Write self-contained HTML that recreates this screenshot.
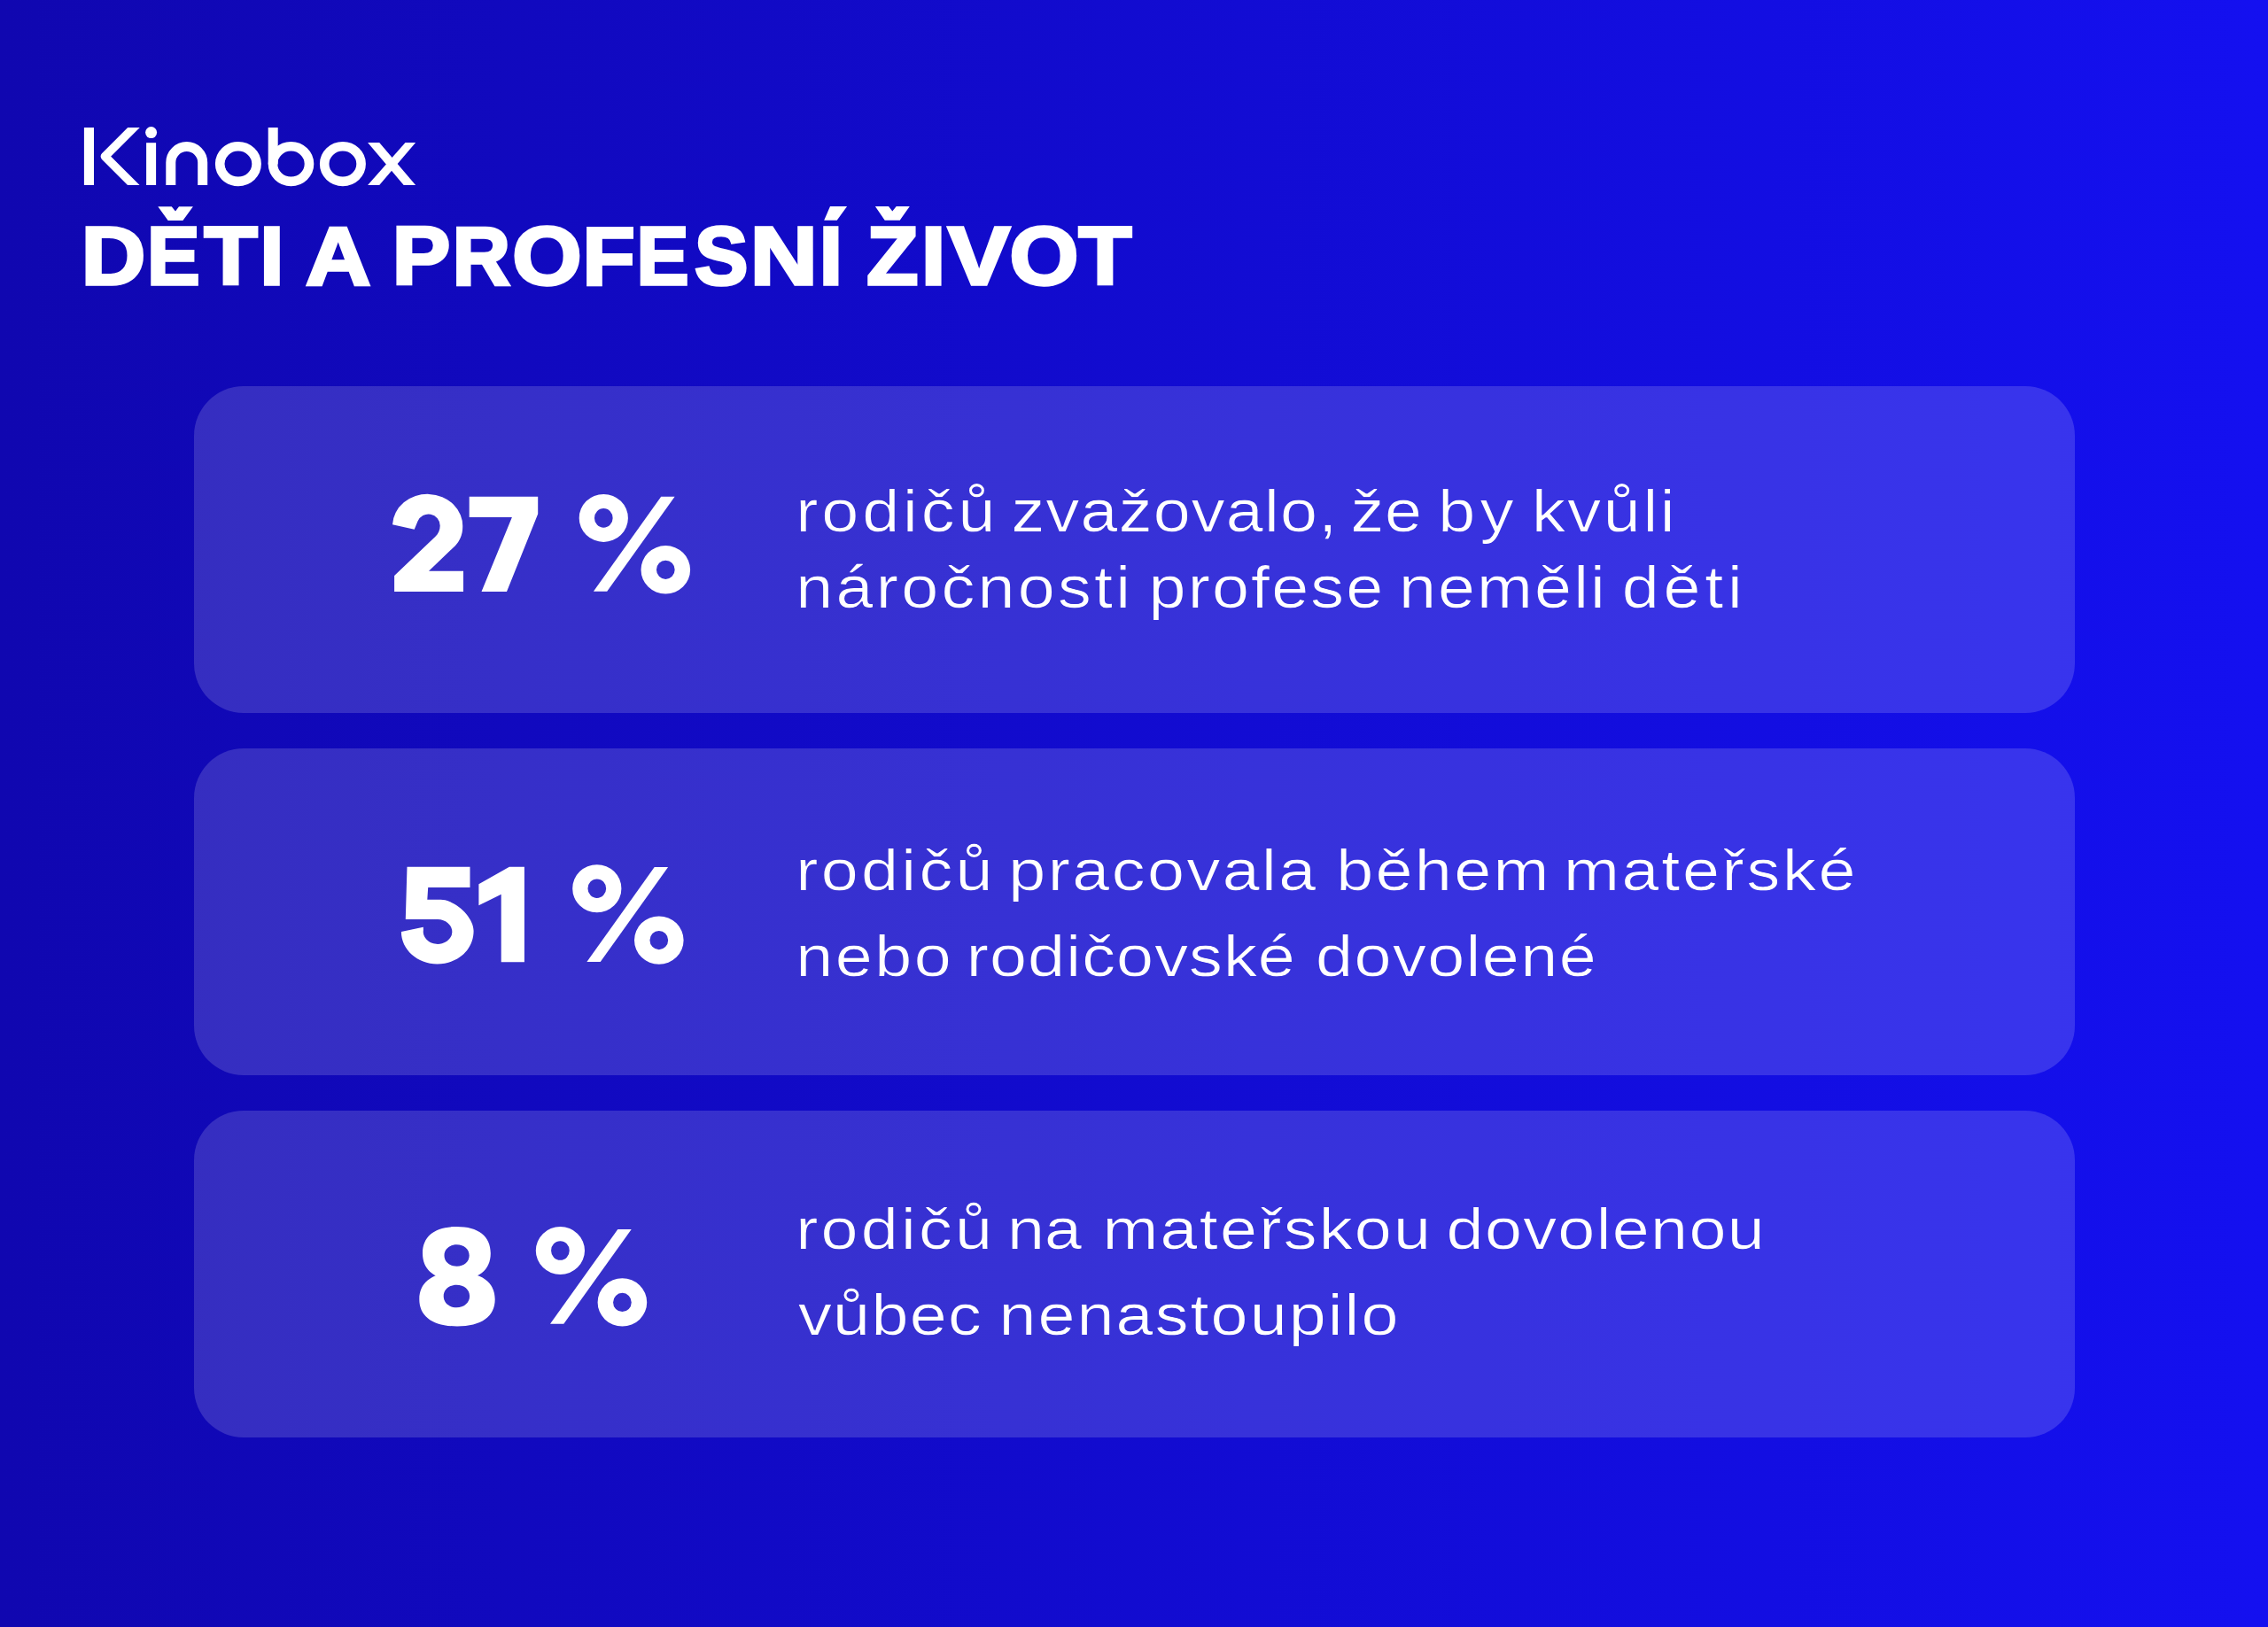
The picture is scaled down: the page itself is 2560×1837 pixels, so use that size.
<!DOCTYPE html>
<html lang="cs"><head><meta charset="utf-8"><title>Kinobox – Děti a profesní život</title>
<style>html,body{margin:0;padding:0;background:#1209c8}body{width:2560px;height:1837px;overflow:hidden;font-family:"Liberation Sans",sans-serif}svg text{font-family:"Liberation Sans",sans-serif}</style></head>
<body>
<svg width="2560" height="1837" viewBox="0 0 2560 1837" style="display:block">
<defs><linearGradient id="bg" x1="0" y1="0" x2="1" y2="0"><stop offset="0" stop-color="#1007b0"/><stop offset="1" stop-color="#1410f0"/></linearGradient></defs>
<rect width="2560" height="1837" fill="url(#bg)"/>
<rect x="219" y="436" width="2123" height="369" rx="56" fill="#fff" fill-opacity="0.155"/>
<rect x="219" y="845" width="2123" height="369" rx="56" fill="#fff" fill-opacity="0.155"/>
<rect x="219" y="1254" width="2123" height="369" rx="56" fill="#fff" fill-opacity="0.155"/>
<g id="logo" role="img" aria-label="Kinobox" fill="#fff"><title>Kinobox</title>
<rect x="94.9" y="144" width="11.1" height="65"/>
<clipPath id="kclip"><rect x="100" y="144" width="70" height="65"/></clipPath>
<path clip-path="url(#kclip)" d="M161,134 L118.4,176.6 L161,219.2" fill="none" stroke="#fff" stroke-width="9.6" stroke-linejoin="round"/>
<circle cx="170.6" cy="149.6" r="6.5"/>
<rect x="165.1" y="161.2" width="11" height="47.8"/>
<path d="M192.8,209 V183.5 A17.95,17.95 0 0 1 228.7,183.5 V209" fill="none" stroke="#fff" stroke-width="11"/>
<ellipse cx="268.9" cy="185.1" rx="20.7" ry="19.8" fill="none" stroke="#fff" stroke-width="10.6"/>
<rect x="302.7" y="144" width="11" height="41.5"/>
<ellipse cx="328.5" cy="185.1" rx="20.5" ry="19.8" fill="none" stroke="#fff" stroke-width="10.6"/>
<ellipse cx="386.9" cy="185.1" rx="20.7" ry="19.8" fill="none" stroke="#fff" stroke-width="10.6"/>
<path d="M415.1,161.1 L428.2,161.1 L469.1,209 L455.7,209 Z"/>
<path d="M457.5,161.1 L469.1,161.1 L428.2,209 L415.1,209 Z"/>
</g>

<defs><clipPath id="capclip"><rect x="0" y="254" width="2560" height="100"/></clipPath></defs>
<g fill="#fff" stroke="#fff" stroke-width="3.6" stroke-linejoin="miter" font-weight="700" font-size="96">
<text transform="translate(91.87,321.32) scale(1.0457,0.9716)">D</text><g clip-path="url(#capclip)"><text transform="translate(165.99,321.32) scale(0.9312,0.9716)">Ě</text></g><text transform="translate(230.42,321.32) scale(1.0249,0.9716)">T</text><text transform="translate(293.28,321.32) scale(1.0216,0.9716)">I</text>
<text transform="translate(345.05,321.32) scale(1.0591,0.9716)">A</text>
<text transform="translate(442.77,321.32) scale(1.0228,0.9716)">P</text><text transform="translate(510.66,321.32) scale(0.9395,0.9716)">R</text><text transform="translate(578.22,321.32) scale(1.0496,0.9716)">O</text><text transform="translate(657.53,321.32) scale(1.0099,0.9716)">F</text><text transform="translate(718.53,321.32) scale(0.9225,0.9716)">E</text><text transform="translate(784.00,321.32) scale(0.9431,0.9716)">S</text><text transform="translate(846.63,321.32) scale(1.0964,0.9716)">N</text><g clip-path="url(#capclip)"><text transform="translate(924.66,321.32) scale(0.9814,0.9716)">Í</text></g>
<g clip-path="url(#capclip)"><text transform="translate(978.13,321.32) scale(0.9915,0.9716)">Ž</text></g><text transform="translate(1039.98,321.32) scale(1.0216,0.9716)">I</text><text transform="translate(1070.09,321.32) scale(1.0953,0.9716)">V</text><text transform="translate(1139.43,321.32) scale(1.0439,0.9716)">O</text><text transform="translate(1217.42,321.32) scale(1.0199,0.9716)">T</text>
</g>
<g fill="#fff"><path d="M178.3,233.2 H193.7 L198,238.6 L202,233.2 H217.9 L206.4,249.1 H189.7 Z"/><path d="M937,233 H956.1 L944.7,248.8 H930.2 Z"/><path d="M987.9,233 H1003 L1007.3,238.6 L1011.7,233 H1026.8 L1015.7,248.8 H998.7 Z"/></g>
<defs><g id="pct"><path fill-rule="evenodd" d="M653.70,584.90 A27.6,27.0 0 1 1 708.90,584.90 A27.6,27.0 0 1 1 653.70,584.90 Z M670.95,584.90 A10.35,10.8 0 1 1 691.65,584.90 A10.35,10.8 0 1 1 670.95,584.90 Z M723.50,643.30 A27.8,27.2 0 1 1 779.10,643.30 A27.8,27.2 0 1 1 723.50,643.30 Z M740.95,643.30 A10.35,10.6 0 1 1 761.65,643.30 A10.35,10.6 0 1 1 740.95,643.30 Z"/><path d="M746.2,560.8 L761.6,560.8 L685.2,667.7 L669.9,667.7 Z"/></g></defs>
<g role="img" aria-label="27 %" fill="#fff"><title>27 %</title><path d="M443,592.3 A39.6,35.9 0 0 1 522.2,595.3 C522.2,604 518.5,611.5 513.8,616.2 L484,644.7 H523 V668.1 H445.1 V650.1 L491.5,605.8 C494.8,602.6 496.7,598.6 496.7,593.6 A13.1,13.1 0 0 0 471.5,588.6 L467.7,597.8 Z"/><path d="M529.7,560.7 H607.2 V580.2 L572,668.1 H543.5 L577.9,584 H529.7 Z"/><use href="#pct" x="0" y="0"/></g>
<g role="img" aria-label="51 %" fill="#fff"><title>51 %</title><path d="M459.5,978.7 H530.5 V1001.9 H483.2 L482.3,1015.8 H497.5 C513.5,1015.8 534.6,1035 534.6,1051 C534.6,1072.3 516.9,1088.4 493.5,1088.4 C471.1,1088.4 452.9,1072.1 452.9,1052 L477.8,1046.7 L477.9,1050 A16.3,13.9 0 1 0 494,1038.1 H457.8 Z"/><path d="M574.9,978.7 H591.9 V1086.2 H565.7 V1009.8 L540.4,1022.3 V998.2 Z"/><use href="#pct" x="-7.5" y="418.3"/></g>
<g role="img" aria-label="8 %" fill="#fff"><title>8 %</title><path d="M477.0,1415.0 C477.0,1395.8 490.8,1385.0 515.4,1385.0 C540.0,1385.0 553.8,1395.8 553.8,1415.0 C553.8,1434.2 540.0,1445.0 515.4,1445.0 C490.8,1445.0 477.0,1434.2 477.0,1415.0 Z M473.3,1466.9 C473.3,1447.4 488.7,1436.4 516.0,1436.4 C543.3,1436.4 558.7,1447.4 558.7,1466.9 C558.7,1486.4 543.3,1497.4 516.0,1497.4 C488.7,1497.4 473.3,1486.4 473.3,1466.9 Z M501.5,1417.5 C501.5,1424.6 507.4,1429.7 515.6,1429.7 C523.8,1429.7 529.7,1424.6 529.7,1417.5 C529.7,1410.4 523.8,1405.3 515.6,1405.3 C507.4,1405.3 501.5,1410.4 501.5,1417.5 Z M500.7,1463.5 C500.7,1470.9 506.9,1476.2 515.4,1476.2 C523.9,1476.2 530.1,1470.9 530.1,1463.5 C530.1,1456.1 523.9,1450.8 515.4,1450.8 C506.9,1450.8 500.7,1456.1 500.7,1463.5 Z"/><use href="#pct" x="-48.9" y="827.1"/></g>
<defs><mask id="tm" maskUnits="userSpaceOnUse" x="880" y="520" width="1260" height="1020"><use href="#bt" x="-1.0"/></mask></defs>
<g mask="url(#tm)"><g id="bt" transform="translate(0.5,0)" fill="#fff" font-weight="400" font-size="64">
<text transform="translate(898.19,600.00) scale(1.1800,1.0382)" letter-spacing="3.332">rodičů</text>
<text transform="translate(1141.43,600.00) scale(1.1800,1.0382)" letter-spacing="1.052">zvažovalo,</text>
<text transform="translate(1524.43,600.00) scale(1.1800,1.0382)" letter-spacing="0.794">že</text>
<text transform="translate(1623.33,600.00) scale(1.1800,1.0382)" letter-spacing="4.573">by</text>
<text transform="translate(1728.89,600.00) scale(1.1800,1.0382)" letter-spacing="2.270">kvůli</text>
<text transform="translate(898.16,686.25) scale(1.1800,1.0382)" letter-spacing="2.786">náročnosti</text>
<text transform="translate(1296.57,686.25) scale(1.1800,1.0382)" letter-spacing="1.804">profese</text>
<text transform="translate(1578.91,686.25) scale(1.1800,1.0382)" letter-spacing="1.785">neměli</text>
<text transform="translate(1830.81,686.25) scale(1.1800,1.0382)" letter-spacing="4.026">děti</text>
<text transform="translate(898.19,1005.00) scale(1.1800,1.0235)" letter-spacing="2.823">rodičů</text>
<text transform="translate(1138.32,1005.00) scale(1.1800,1.0235)" letter-spacing="2.080">pracovala</text>
<text transform="translate(1508.33,1005.00) scale(1.1800,1.0235)" letter-spacing="1.929">během</text>
<text transform="translate(1764.91,1005.00) scale(1.1800,1.0235)" letter-spacing="2.300">mateřské</text>
<text transform="translate(898.16,1102.00) scale(1.1800,1.0235)" letter-spacing="2.145">nebo</text>
<text transform="translate(1090.69,1102.00) scale(1.1800,1.0235)" letter-spacing="0.967">rodičovské</text>
<text transform="translate(1485.06,1102.00) scale(1.1800,1.0235)" letter-spacing="1.233">dovolené</text>
<text transform="translate(898.19,1410.00) scale(1.1800,1.0235)" letter-spacing="2.738">rodičů</text>
<text transform="translate(1136.91,1410.00) scale(1.1800,1.0235)" letter-spacing="0.165">na</text>
<text transform="translate(1244.41,1410.00) scale(1.1800,1.0235)" letter-spacing="1.911">mateřskou</text>
<text transform="translate(1632.56,1410.00) scale(1.1800,1.0235)" letter-spacing="1.140">dovolenou</text>
<text transform="translate(901.01,1507.00) scale(1.1800,1.0235)" letter-spacing="1.118">vůbec</text>
<text transform="translate(1127.41,1507.00) scale(1.1800,1.0235)" letter-spacing="1.760">nenastoupilo</text>
</g></g>
</svg>
</body></html>
